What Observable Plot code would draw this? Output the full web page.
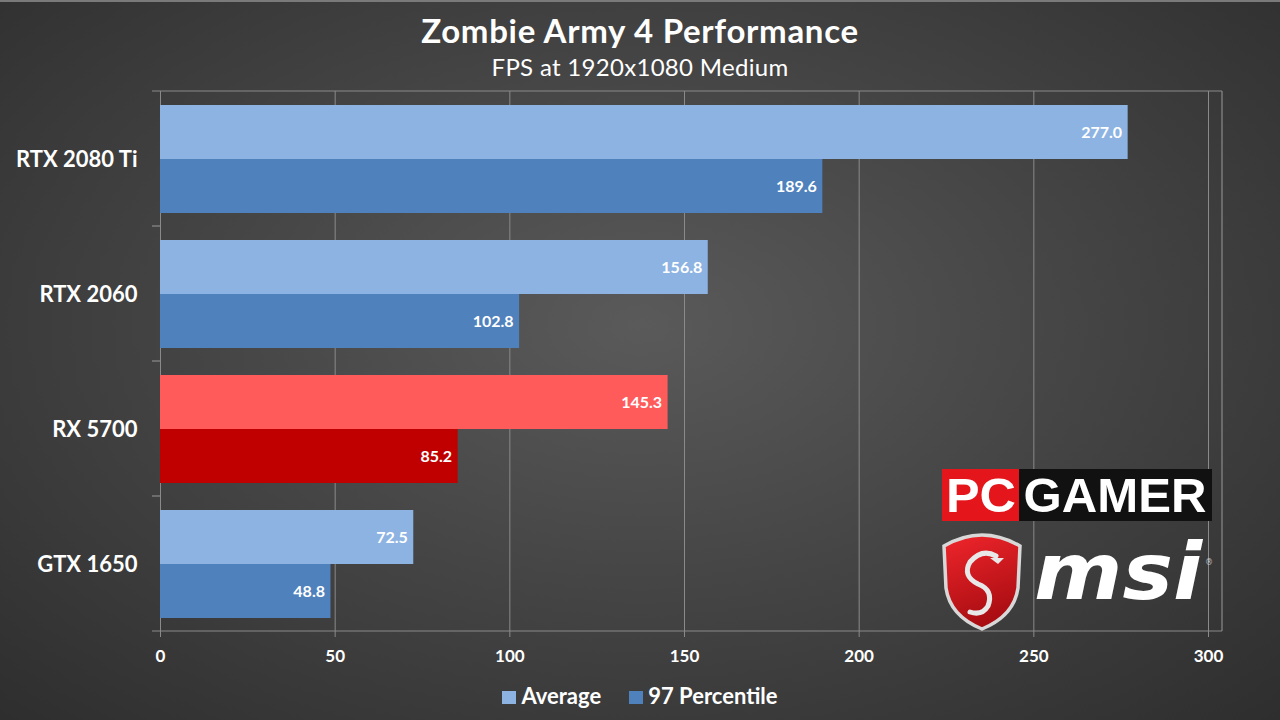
<!DOCTYPE html>
<html>
<head>
<meta charset="utf-8">
<script src="https://cdn.jsdelivr.net/npm/d3@7"></script>
<script src="https://cdn.jsdelivr.net/npm/@observablehq/plot@0.6"></script>
<style>
  html, body { margin: 0; padding: 0; background: #2a2a2a; }
  #stage {
    position: relative; width: 1280px; height: 720px; overflow: hidden;
    background: radial-gradient(ellipse 75% 80% at 50% 45%, #5a5a5a 0%, #454545 45%, #2c2c2c 100%);
    font-family: Lato, "Open Sans", sans-serif; color: #fff;
    box-sizing: border-box; border-top: 2px solid #7a7a7a;
  }
  .title { position: absolute; left: 0; width: 1280px; text-align: center; line-height: 1; }
  #title { top: 12px; font-size: 33px; font-weight: bold; letter-spacing: 0.7px; }
  #subtitle { top: 53px; font-size: 24px; letter-spacing: 0.3px; }
  #chart { position: absolute; left: 0; top: 74px; }
  #legend { position: absolute; top: 683px; left: 0; width: 1280px; display: flex; justify-content: center; gap: 28px; font-size: 22px; font-weight: bold; line-height: 1; }
  #legend span.sw { display: inline-block; width: 14px; height: 13px; margin-right: 5px; vertical-align: 0px; }
  #logo { position: absolute; left: 938px; top: 464px; }
</style>
</head>
<body>
<div id="stage">
  <div class="title" id="title">Zombie Army 4 Performance</div>
  <div class="title" id="subtitle">FPS at 1920x1080 Medium</div>
  <div id="chart"></div>
  <div id="legend"></div>
  <svg id="logo" width="280" height="165" viewBox="0 0 280 165">
    <defs>
      <linearGradient id="shield" x1="0" y1="0" x2="0.3" y2="1">
        <stop offset="0" stop-color="#f0262c"/>
        <stop offset="1" stop-color="#a90d12"/>
      </linearGradient>
    </defs>
    <rect x="4" y="3" width="78" height="52" fill="#e4151b"/>
    <rect x="81" y="3" width="193" height="52" fill="#111"/>
    <text x="43" y="46" text-anchor="middle" font-family="Liberation Sans, Arial, sans-serif" font-weight="bold" font-size="49" fill="#fff" textLength="70" lengthAdjust="spacingAndGlyphs">PC</text>
    <text x="177" y="46" text-anchor="middle" font-family="Liberation Sans Narrow, Liberation Sans, sans-serif" font-weight="bold" font-size="49" fill="#fff" textLength="183" lengthAdjust="spacingAndGlyphs">GAMER</text>
    <path d="M6,80 Q44,58 82,80 L80,122 Q76,150 44,163 Q12,150 8,122 Z" fill="url(#shield)" stroke="#d8d8d8" stroke-width="3.5"/>
    <path d="M58,90 Q44,82 32,96 Q24,110 40,118 Q56,124 50,140 Q44,150 32,146" fill="none" stroke="#e8e8e8" stroke-width="5" stroke-linecap="round"/>
    <path d="M52,92 L66,92 L60,98 Z" fill="#e8e8e8"/>
    <text x="96" y="133" font-family="DejaVu Sans, sans-serif" font-style="italic" font-weight="bold" font-size="78" fill="#fff" textLength="168" lengthAdjust="spacingAndGlyphs">msi</text>
    <text x="267" y="99" font-family="DejaVu Sans, sans-serif" font-size="8" fill="#ccc">®</text>
  </svg>
</div>
<script>
// Zombie Army 4, 1920x1080 Medium — average and 97th percentile FPS
const gpus = ["RTX 2080 Ti", "RTX 2060", "RX 5700", "GTX 1650"];
const average = [277.0, 156.8, 145.3, 72.5];
const p97 = [189.6, 102.8, 85.2, 48.8];
const seriesNames = ["Average", "97 Percentile"];
const amdGpus = ["RX 5700"];
const xTicks = [0, 50, 100, 150, 200, 250, 300];

const palette = {
  nvidia: { "Average": "#8db3e2", "97 Percentile": "#4f81bd" },
  amd: { "Average": "#ff5b5b", "97 Percentile": "#c00000" },
};
const colorOf = d => palette[amdGpus.includes(d.gpu) ? "amd" : "nvidia"][d.series];

const rows = gpus.flatMap((gpu, i) => [
  { gpu, series: seriesNames[0], value: average[i] },
  { gpu, series: seriesNames[1], value: p97[i] },
]);
const avgRows = rows.filter(d => d.series === "Average");
const pctRows = rows.filter(d => d.series === "97 Percentile");

// plot frame (top/right/bottom, overhanging left) and category ticks at band edges
function frameLines(index, scales, values, dims) {
  const { width, height, marginTop, marginBottom, marginLeft, marginRight } = dims;
  const left = marginLeft - 8, right = width - marginRight + 14;
  const top = marginTop, bottom = height - marginBottom;
  const step = (bottom - top) / gpus.length;
  const g = d3.create("svg:g").attr("stroke", "#8a8a8a").attr("stroke-width", 1.2);
  g.append("line").attr("x1", left).attr("x2", right).attr("y1", top).attr("y2", top);
  g.append("line").attr("x1", right).attr("x2", right).attr("y1", top).attr("y2", bottom);
  g.append("line").attr("x1", left).attr("x2", right).attr("y1", bottom).attr("y2", bottom);
  d3.range(1, gpus.length).forEach(k => {
    g.append("line").attr("x1", left).attr("x2", marginLeft)
      .attr("y1", top + k * step).attr("y2", top + k * step);
  });
  return g.node();
}

const bandInset = 54;

const plot = Plot.plot({
  width: 1280,
  height: 600,
  marginTop: 15,
  marginBottom: 45,
  marginLeft: 160,
  marginRight: 72,
  style: { background: "transparent", color: "#fff", fontFamily: "Lato, 'Open Sans', sans-serif", overflow: "visible" },
  x: { domain: [0, 300] },
  y: { domain: gpus, paddingInner: 0.2, paddingOuter: 0.1 },
  marks: [
    Plot.ruleX(xTicks, { stroke: "#8a8a8a", strokeWidth: 1, insetBottom: -6 }),
    frameLines,
    Plot.barX(avgRows, { x: "value", y: "gpu", fill: colorOf, insetBottom: bandInset }),
    Plot.barX(pctRows, { x: "value", y: "gpu", fill: colorOf, insetTop: bandInset }),
    Plot.text(avgRows, {
      x: "value", y: "gpu", text: d => d.value.toFixed(1), dy: -27, dx: -6,
      textAnchor: "end", fill: "#fff", fontWeight: "bold", fontSize: 16,
    }),
    Plot.text(pctRows, {
      x: "value", y: "gpu", text: d => d.value.toFixed(1), dy: 27, dx: -6,
      textAnchor: "end", fill: "#fff", fontWeight: "bold", fontSize: 16,
    }),
    Plot.axisX({ ticks: xTicks, tickSize: 0, tickPadding: 18, fontSize: 17, fontWeight: "bold", label: null }),
    Plot.axisY({ tickSize: 0, tickPadding: 23, fontSize: 22, fontWeight: "bold", label: null }),
  ],
});
document.getElementById("chart").appendChild(plot);

const legend = document.getElementById("legend");
seriesNames.forEach(name => {
  const item = document.createElement("div");
  item.innerHTML = `<span class="sw" style="background:${palette.nvidia[name]}"></span>${name}`;
  legend.appendChild(item);
});
</script>
</body>
</html>
